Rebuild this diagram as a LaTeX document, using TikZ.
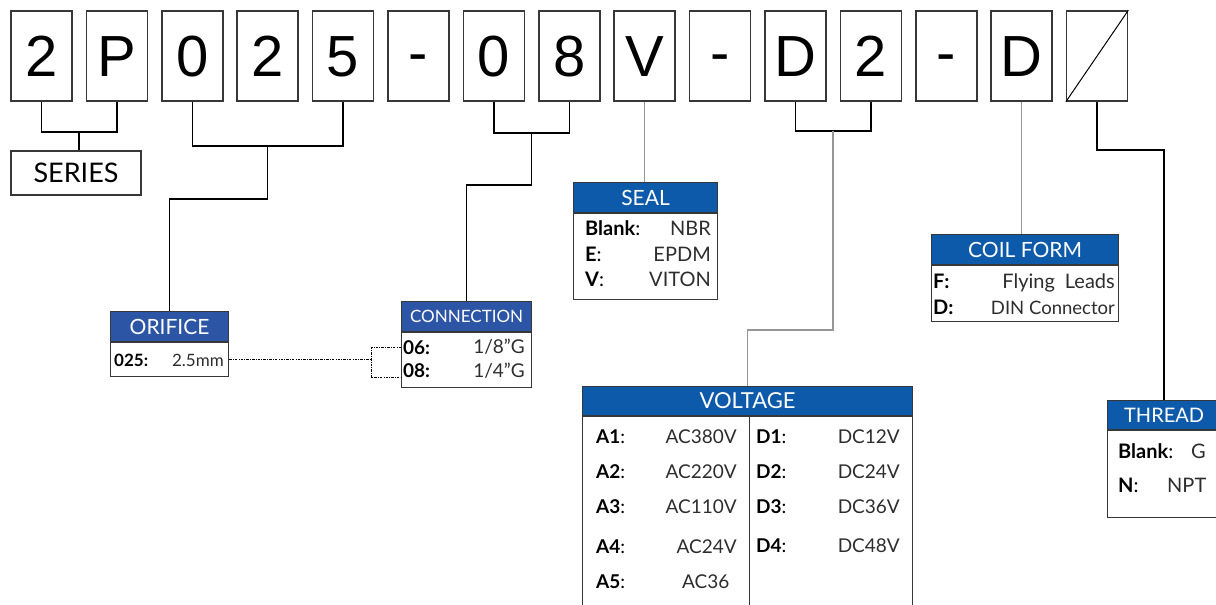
\documentclass[tikz,border=0pt]{standalone}
\usepackage{fontspec}
\setmainfont{Lato}
\newfontfamily\codefont{Liberation Sans}
\usetikzlibrary{calc,positioning}
\definecolor{hdblue}{RGB}{14,90,170}
\definecolor{hdbluedim}{RGB}{45,85,165}
\definecolor{framegray}{RGB}{55,55,55}
\definecolor{valgray}{RGB}{45,45,45}
\definecolor{wiregray}{RGB}{150,150,150}
\newcommand{\fsz}[1]{\fontsize{#1}{#1}\selectfont}

\tikzset{
  codebox/.style={draw=framegray,line width=1.5pt,minimum width=61pt,minimum height=90pt,inner sep=0pt,
    text height=41.5pt,text depth=0pt,font=\codefont\fsz{58}},
  tblhead/.style={fill=#1,draw=framegray,line width=1.2pt,text=white,anchor=north west,inner sep=0pt},
  tblbody/.style={draw=framegray,line width=1.2pt,inner sep=0pt},
  keytxt/.style={anchor=base west,inner sep=0pt,font=\fsz{19}},
  valtxt/.style={anchor=base east,inner sep=0pt,text=valgray,font=\fsz{19}},
  wire/.style={line width=1.5pt},
  greywire/.style={line width=1.5pt,draw=wiregray},
  dashlink/.style={line width=.8pt,dash pattern=on 2.5pt off 1.2pt on .8pt off 1.2pt}
}

\begin{document}
\begin{tikzpicture}[x=1pt,y=-1pt]
  \clip (0,0) rectangle (1216,605);
  % code boxes
  \foreach \ch [count=\i from 0] in {2,P,0,2,5,\raisebox{4pt}{-},0,8,V,\raisebox{4pt}{-},D,2,\raisebox{4pt}{-},D,{}}
    \node[codebox] (c\i) at (41.5+75.4*\i,56) {\ch};
  \draw[line width=1pt] (c14.south west) -- (c14.north east);

  % series
  \node[draw=framegray,line width=1.5pt,minimum width=130pt,minimum height=44pt,font=\fsz{27}] (series) at (76,173) {SERIES};

  % orifice
  \node[tblhead=hdbluedim,minimum width=118pt,minimum height=30pt,font=\fsz{21}] (orih) at (110,311) {ORIFICE};
  \node[tblbody,minimum width=118pt,minimum height=34pt,below=0pt of orih] (orib) {};
  \node[keytxt,font=\bfseries\fsz{17}] (orik) at (114,366) {025:};
  \node[valtxt,font=\fsz{17}] (oriv) at (224,366) {2.5mm};

  % connection
  \node[tblhead=hdbluedim,minimum width=130pt,minimum height=30pt,font=\fsz{17}] (conh) at (401,301) {CONNECTION};
  \node[tblbody,minimum width=130pt,minimum height=55pt,below=0pt of conh] (conb) {};
  \node[keytxt,font=\bfseries\fsz{19}] (c06k) at (403,354) {06:};
  \node[valtxt] (c06v) at (525,353) {1/8”G};
  \node[keytxt,font=\bfseries\fsz{19}] (c08k) at (403,377) {08:};
  \node[valtxt] (c08v) at (525,377) {1/4”G};

  % seal
  \node[tblhead=hdblue,minimum width=144pt,minimum height=30pt,font=\fsz{21}] (sealh) at (573,182) {SEAL};
  \node[tblbody,minimum width=144pt,minimum height=86pt,below=0pt of sealh] (sealb) {};
  \foreach \k/\v/\y [count=\i] in {Blank/NBR/235,E/EPDM/261,V/VITON/286}{
    \node[keytxt,font=\fsz{20}] (sk\i) at (585,\y) {\textbf{\k}:};
    \node[valtxt,font=\fsz{20}] (sv\i) at (711,\y) {\v};}

  % voltage
  \node[tblhead=hdblue,minimum width=330pt,minimum height=29pt,font=\fsz{22}] (volh) at (582,386) {VOLTAGE};
  \node[tblbody,minimum width=330pt,minimum height=200pt,below=0pt of volh] (volb) {};
  \draw[framegray,line width=1.2pt] ([xshift=2pt]volh.south) -- ([xshift=2pt]volb.south);
  \foreach \k/\v/\y [count=\i] in {A1/AC380V/443,A2/AC220V/478,A3/AC110V/513,A4/AC24V/553}{
    \node[keytxt] (ak\i) at (596,\y) {\textbf{\k}:};
    \node[valtxt] (av\i) at (737,\y) {\v};}
  \node[keytxt] (ak5) at (596,588) {\textbf{A5}:};
  \node[valtxt,anchor=base west] (av5) at (682,588) {AC36};
  \foreach \k/\v/\y [count=\i] in {D1/DC12V/443,D2/DC24V/478,D3/DC36V/513,D4/DC48V/552}{
    \node[keytxt] (dk\i) at (756,\y) {\textbf{\k}:};
    \node[valtxt] (dv\i) at (900,\y) {\v};}

  % coil form
  \node[tblhead=hdblue,minimum width=187pt,minimum height=30pt,font=\fsz{21}] (coilh) at (931,234) {COIL FORM};
  \node[tblbody,minimum width=187pt,minimum height=56pt,below=0pt of coilh] (coilb) {};
  \node[keytxt,font=\bfseries\fsz{20}] (cfk1) at (933,288) {F:};
  \node[valtxt,font=\fsz{20}] (cfv1) at (1115,288) {Flying\hspace{10pt}Leads};
  \node[keytxt,font=\bfseries\fsz{20}] (cfk2) at (933,314) {D:};
  \node[valtxt,font=\fsz{18.5}] (cfv2) at (1115,314) {DIN Connector};

  % thread
  \node[tblhead=hdblue,minimum width=113pt,minimum height=29pt,font=\fsz{20}] (thrh) at (1107,400) {THREAD};
  \node[tblbody,minimum width=113pt,minimum height=87pt,below=0pt of thrh] (thrb) {};
  \node[keytxt,font=\fsz{20}] (tk1) at (1118,458) {\textbf{Blank}:};
  \node[valtxt,anchor=base west,font=\fsz{20}] (tv1) at (1191,458) {G};
  \node[keytxt,font=\fsz{20}] (tk2) at (1118,492) {\textbf{N}:};
  \node[valtxt,anchor=base west,font=\fsz{20}] (tv2) at (1167,492) {NPT};

  % connectors
  \draw[wire] (c0.south) -- ++(0,30) coordinate (b2p) -| (c1.south);
  \draw[wire] ($(b2p)!.5!(b2p -| c1.south)$) coordinate (m2p) -- (m2p |- series.north);
  \draw[wire] (c2.south) -- ++(0,44) coordinate (b025) -| (c4.south);
  \draw[wire] (b025 -| c3.south) -- ++(0,53) -| (orih.north);
  \draw[wire] (c6.south) -- ++(0,31) coordinate (b08) -| (c7.south);
  \draw[wire] ($(b08)!.5!(b08 -| c7.south)$) -- ++(0,52) -| (conh.north);
  \draw[dashlink] (orib.east) -- ++(142,0) coordinate (dj);
  \draw[dashlink] ([yshift=12.5pt]conb.west) -| (dj) |- ([yshift=-17.5pt]conb.west);
  \draw[greywire] (c8.south) -- (c8.south |- sealh.north);
  \draw[wire] (c10.south) -- ++(0,29) coordinate (bd2) -| (c11.south);
  \draw[greywire] ($(bd2)!.5!(bd2 -| c11.south)$) -- ++(0,199) -| (volh.north);
  \draw[greywire] (c13.south) -- (c13.south |- coilh.north);
  \draw[wire] (c14.south) -- ++(0,48) -| (thrh.north);
\end{tikzpicture}
\end{document}
